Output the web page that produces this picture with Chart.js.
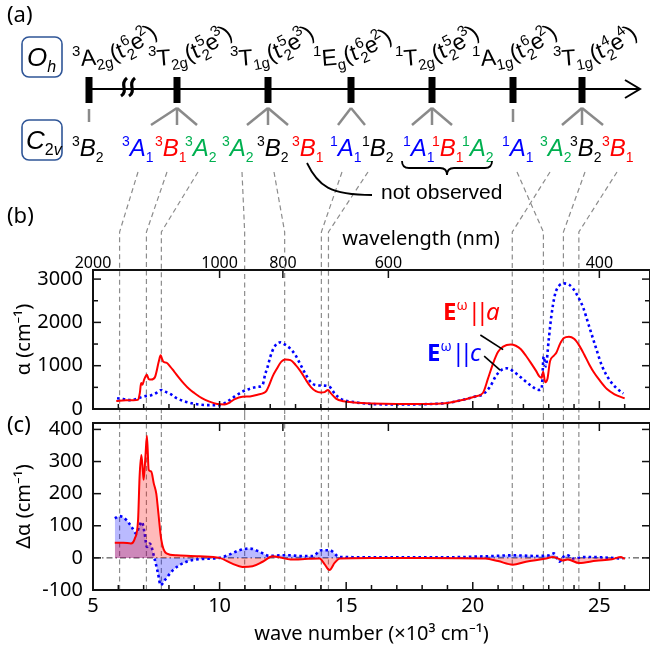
<!DOCTYPE html>
<html><head><meta charset="utf-8">
<script src="https://cdn.jsdelivr.net/npm/chart.js@4.4.0/dist/chart.umd.min.js"></script>
<style>body{margin:0;background:#fff}#wrap{position:relative;width:650px;height:649px;overflow:hidden}canvas{position:absolute;left:0}</style>
</head><body><div id="wrap"><canvas id="cb" width="650" height="415" style="top:0"></canvas><canvas id="cc" width="650" height="234" style="top:415px"></canvas></div>
<script>
// ---------------- data ----------------
// panel (b): absorption, E||a (red) and E||c (blue), wave number in 10^3 cm^-1
const wnA = [5.92,6.3,6.6,6.77,6.85,6.9,6.95,7.02,7.13,7.2,7.3,7.45,7.6,7.67,7.72,7.78,7.9,8.05,8.2,8.4,8.6,8.8,9.0,9.3,9.6,9.9,10.2,10.4,10.6,10.9,11.2,11.5,11.75,11.85,11.95,12.1,12.25,12.45,12.6,12.8,13.0,13.2,13.4,13.6,13.8,14.0,14.15,14.28,14.4,14.6,14.9,15.3,16,17,18,19,19.6,20.1,20.4,20.6,20.8,21.0,21.2,21.5,21.7,21.9,22.1,22.3,22.5,22.62,22.72,22.78,22.86,22.95,23.05,23.2,23.3,23.45,23.6,23.8,24.0,24.2,24.4,24.6,24.8,25.0,25.3,25.6,26.0];
const alphaA = [185,200,200,210,370,600,560,680,790,690,680,740,1100,1240,1170,1090,1070,980,870,720,580,460,370,250,170,115,105,150,230,285,290,330,370,420,540,760,920,1100,1145,1130,1020,870,680,510,410,380,390,440,360,240,180,150,125,115,115,140,210,290,370,700,1050,1320,1440,1490,1460,1380,1230,1060,880,760,720,860,620,700,1100,1230,1300,1510,1640,1670,1620,1470,1260,1030,830,670,460,340,245];
const wnC = [5.95,6.2,6.5,6.8,7.0,7.3,7.5,7.7,7.85,8.05,8.3,8.6,9.0,9.5,10.0,10.3,10.6,10.9,11.2,11.5,11.7,11.8,11.9,12.0,12.15,12.4,12.55,12.8,13.0,13.2,13.4,13.6,13.8,14.1,14.35,14.55,14.8,15.2,16,17,18,19,19.6,20.1,20.4,20.7,20.9,21.1,21.35,21.6,21.8,22.0,22.3,22.6,22.72,22.8,22.88,23.0,23.1,23.25,23.4,23.6,23.8,23.95,24.15,24.35,24.6,24.85,25.1,25.4,25.7,25.95];
const alphaC = [250,230,205,250,290,320,370,440,400,350,250,180,120,90,90,170,290,400,470,510,560,800,980,1200,1420,1540,1500,1390,1240,1020,800,620,550,540,510,350,230,170,115,105,110,140,210,290,340,530,750,890,940,870,780,680,540,440,470,1210,980,1600,2130,2650,2840,2900,2870,2790,2600,2360,1900,1440,1000,670,470,360];
// panel (c): difference spectra
const wnDA = [5.86,6.2,6.5,6.65,6.78,6.84,6.91,6.97,7.0,7.07,7.13,7.2,7.3,7.4,7.5,7.57,7.7,7.9,8.3,9.2,10.0,10.5,10.9,11.3,11.7,12.1,12.4,12.8,13.5,13.95,14.15,14.34,14.55,14.75,16,18,20.5,21.0,21.58,22.1,22.9,23.16,23.4,23.55,23.75,24.2,24.87,25.5,25.86,26.0];
const dAlphaA = [47,47,45,60,118,253,320,270,243,315,380,274,269,232,200,149,55,14,8,5,0,-18,-28,-26,-12,5,1,-5,-3,-2,-20,-38,-15,-2,0,0,-2,-10,-21,-12,-2,3,-3,-8,-5,-16,-9,-4,3,-4];
const wnDC = [5.86,6.05,6.32,6.52,6.71,6.84,6.93,7.04,7.13,7.24,7.43,7.57,7.67,7.83,8.16,8.69,9.21,10.0,10.4,10.79,11.19,11.58,11.97,12.37,12.77,13.16,13.68,14.02,14.34,14.74,16,19,20.53,21.58,22.5,23.03,23.2,23.42,23.6,23.75,23.95,24.48,25.92];
const dAlphaC = [123,130,118,97,76,102,112,76,34,45,-2,-49,-85,-70,-38,-12,-4,0,11,24,29,19,6,8,8,6,6,24,24,3,2,2,5,8,6,8,14,-12,5,8,-2,3,-2];
// level energies marked by dashed lines (10^3 cm^-1)
const levelWN = [6.05,7.11,7.70,10.99,12.57,14.02,14.30,22.79,21.56,23.58,24.19];
// tick values
const nmTicks = [2000,1000,800,600,400];
const alphaTicks = [0,500,1000,1500,2000,2500,3000];
const dAlphaTicks = [-100,0,100,200,300,400];
const wnTicks = [5,6,7,8,9,10,11,12,13,14,15,16,17,18,19,20,21,22,23,24,25,26,27];
// labels in panel (a)
const ohLabels = [['3','A','2g','6','2'],['3','T','2g','5','3'],['3','T','1g','5','3'],['1','E','g','6','2'],['1','T','2g','5','3'],['1','A','1g','6','2'],['3','T','1g','4','4']];
const c2vLabels = [['3','B','2','k'],['3','A','1','b'],['3','B','1','r'],['3','A','2','g'],['3','A','2','g'],['3','B','2','k'],['3','B','1','r'],['1','A','1','b'],['1','B','2','k'],['1','A','1','b'],['1','B','1','r'],['1','A','2','g'],['1','A','1','b'],['3','A','2','g'],['3','B','2','k'],['3','B','1','r']];

// ---------------- layout/style ----------------
const RED='#ff0000', BLUE='#0000ff', GREEN='#00b050', BLK='#000000';
const COL={k:BLK,b:BLUE,r:RED,g:GREEN};
const F='"Noto Sans", "Open Sans", sans-serif';
const FA='"Liberation Sans", Arial, sans-serif';
const ohX=[72,148,230,313,395,472,553];
const c2vX=[72,122,155,185,222,257,292,330,362,403,432,462,502,540,570,602];
const barX=[89,177,268,351,432,513,582];
const splits=[[0],[-26,0,20],[-21,0,20],[-13,14],[-20,0,20],[0],[-20,0,21]];
const vTopX=[138,167,198,242,274,342,368,517,550,585,617];
const V_TOP=172, V_BEND=232;

function rich(ctx,x,y,parts,size,fam,curve,color,sf){
  sf=sf||0.6;
  let px=x,py=y,ang=0;
  ctx.textBaseline='alphabetic'; ctx.textAlign='left';
  for(const p of parts){
    const small=p.s==='sup'||p.s==='sub'||p.s==='stack';
    const fs=small?Math.round(size*sf):size;
    ctx.font=(p.i?'italic ':'')+(p.b?'bold ':'')+fs+'px '+fam;
    let w=ctx.measureText(p.t).width;
    if(p.s==='stack') w=Math.max(w,ctx.measureText(p.u).width);
    ctx.save(); ctx.translate(px,py); ctx.rotate(ang);
    ctx.fillStyle=p.c||color||'#000';
    if(p.s==='sup') ctx.fillText(p.t,0,-size*0.42);
    else if(p.s==='sub') ctx.fillText(p.t,0,size*0.24);
    else if(p.s==='stack'){ctx.fillText(p.t,1,size*0.26);ctx.fillText(p.u,1,-size*0.42);}
    else ctx.fillText(p.t,0,0);
    ctx.restore();
    const adv=w+(p.k||0);
    px+=adv*Math.cos(ang); py+=adv*Math.sin(ang);
    if(curve) ang-=curve*adv;
  }
}
function line(ctx,x1,y1,x2,y2){ctx.beginPath();ctx.moveTo(x1,y1);ctx.lineTo(x2,y2);ctx.stroke();}
function noPad(s){s.paddingTop=0;s.paddingBottom=0;s.paddingLeft=0;s.paddingRight=0;}

function frameTicks(chart,yMajor,yAll){
  const {ctx,chartArea:a,scales}=chart;
  ctx.save();
  ctx.strokeStyle='#111'; ctx.lineWidth=1.5;
  const ys=scales.y, xs=scales.x;
  ys.ticks.forEach(t=>{const py=ys.getPixelForValue(t.value);const L=(yAll||t.value%yMajor===0)?8:5;line(ctx,a.left,py,a.left+L,py);line(ctx,a.right,py,a.right-L,py);});
  wnTicks.forEach(v=>{if(v<=5||v>=27)return;const px=xs.getPixelForValue(v);const L=v%5===0?8:5;line(ctx,px,a.bottom,px,a.bottom-L);});
  nmTicks.forEach(nm=>{const px=xs.getPixelForValue(1e4/nm);line(ctx,px,a.top,px,a.top+8);});
  ctx.lineWidth=2; ctx.strokeRect(a.left,a.top,a.right-a.left,a.bottom-a.top);
  ctx.restore();
}
function yTitle(ctx,x,y,txt){
  ctx.save();ctx.translate(x,y);ctx.rotate(-Math.PI/2);ctx.font='20px '+F;ctx.fillStyle='#000';ctx.textAlign='center';ctx.textBaseline='middle';ctx.fillText(txt,0,0);ctx.restore();
}

const decoB={id:'decoB',
  beforeDatasetsDraw(chart){
    const {ctx,scales:{x}}=chart;
    ctx.save();ctx.strokeStyle='#8c8c8c';ctx.lineWidth=1.2;ctx.setLineDash([5,3.5]);
    levelWN.forEach((w,i)=>{const px=x.getPixelForValue(w);ctx.beginPath();ctx.moveTo(vTopX[i],V_TOP);ctx.lineTo(px,V_BEND);ctx.lineTo(px,415);ctx.stroke();});
    ctx.restore();
  },
  afterDraw(chart){
    const {ctx,chartArea:a,scales:{x,y}}=chart;
    frameTicks(chart,1000,false);
    ctx.save();
    ctx.fillStyle='#000';ctx.font='22px '+F;ctx.textBaseline='alphabetic';ctx.textAlign='left';
    ctx.fillText('(a)',7,22);ctx.fillText('(b)',7,223);
    ctx.font='20px '+F;ctx.textAlign='center';ctx.fillText('wavelength (nm)',421,245);
    yTitle(ctx,24,(a.top+a.bottom)/2,'\u03b1 (cm\u207b\u00b9)');
    // --- panel (a) ---
    ctx.strokeStyle='#2f5597';ctx.lineWidth=1.6;
    ctx.beginPath();ctx.roundRect(22,37,40,40,7);ctx.stroke();
    ctx.beginPath();ctx.roundRect(22,120,40,40,7);ctx.stroke();
    rich(ctx,27,66,[{t:'O',i:true},{t:'h',s:'sub',i:true}],26,FA);
    rich(ctx,26,149,[{t:'C',i:true},{t:'2',s:'sub'},{t:'v',s:'sub',i:true}],26,FA);
    ctx.strokeStyle='#000';ctx.lineWidth=2;
    line(ctx,89,89,639,89);
    ctx.beginPath();ctx.moveTo(625,80);ctx.lineTo(640,89);ctx.lineTo(625,98);ctx.stroke();
    ctx.lineWidth=3.2;
    [124,132].forEach(bx=>{ctx.beginPath();ctx.moveTo(bx-3,96);ctx.bezierCurveTo(bx+5,91,bx-5,84,bx+3,78);ctx.stroke();});
    ctx.fillStyle='#000';
    barX.forEach(bx=>ctx.fillRect(bx-3.5,77,7,26));
    ctx.strokeStyle='#8a8a8a';ctx.lineWidth=2.5;
    barX.forEach((bx,i)=>{const s=splits[i];if(s.length===1){line(ctx,bx,109,bx,122);}else s.forEach(d=>line(ctx,bx,108,bx+d,125));});
    ohLabels.forEach((l,i)=>{
      rich(ctx,ohX[i],66,[{t:l[0],s:'sup',k:1},{t:l[1]},{t:l[2],s:'sub'},{t:'('},{t:'t',k:1},{t:'2',u:l[3],s:'stack',k:1},{t:'e'},{t:l[4],s:'sup'},{t:')'}],23,FA,0.0085,'#000',0.66);
    });
    c2vLabels.forEach((l,i)=>{
      rich(ctx,c2vX[i],156,[{t:l[0],s:'sup'},{t:l[1],i:true},{t:l[2],s:'sub'}],24,FA,0,COL[l[3]]);
    });
    ctx.strokeStyle='#000';ctx.lineWidth=1.8;
    ctx.beginPath();ctx.moveTo(402,161);ctx.quadraticCurveTo(402,168,409,168);ctx.lineTo(440,168);ctx.quadraticCurveTo(447,168,447,175);ctx.quadraticCurveTo(447,168,454,168);ctx.lineTo(485,168);ctx.quadraticCurveTo(492,168,492,161);ctx.stroke();
    ctx.beginPath();ctx.moveTo(307,163);ctx.bezierCurveTo(318,186,330,195,372,195);ctx.stroke();
    ctx.fillStyle='#000';ctx.font='21px '+FA;ctx.textAlign='left';ctx.fillText('not observed',381,199);
    // legend
    rich(ctx,443,320,[{t:'E',b:true},{t:'\u03c9',s:'sup'},{t:'|',k:-5},{t:'|',k:-3},{t:'a',i:true}],24,F,0,RED);
    rich(ctx,427,361,[{t:'E',b:true},{t:'\u03c9',s:'sup'},{t:'|',k:-5},{t:'|',k:-3},{t:'c',i:true}],24,F,0,BLUE);
    ctx.strokeStyle='#000';ctx.lineWidth=1.6;
    line(ctx,x.getPixelForValue(20.3),y.getPixelForValue(1710),x.getPixelForValue(21.2),y.getPixelForValue(1370));
    line(ctx,x.getPixelForValue(20.45),y.getPixelForValue(1220),x.getPixelForValue(21.08),y.getPixelForValue(900));
    ctx.restore();
  }
};

const decoC={id:'decoC',
  beforeDatasetsDraw(chart){
    const {ctx,chartArea:a,scales:{x}}=chart;
    ctx.save();ctx.strokeStyle='#8c8c8c';ctx.lineWidth=1.2;ctx.setLineDash([5,3.5]);
    levelWN.forEach(w=>{const px=x.getPixelForValue(w);line(ctx,px,0,px,a.bottom);});
    ctx.restore();
  },
  afterDraw(chart){
    const {ctx,chartArea:a}=chart;
    frameTicks(chart,100,true);
    ctx.save();ctx.fillStyle='#000';ctx.font='22px '+F;ctx.textAlign='left';ctx.textBaseline='alphabetic';
    ctx.fillText('(c)',7,17);
    yTitle(ctx,24,(a.top+a.bottom)/2,'\u0394\u03b1 (cm\u207b\u00b9)');
    ctx.font='20px '+F;ctx.textAlign='center';
    ctx.fillText('wave number (\u00d710\u00b3 cm\u207b\u00b9)',(a.left+a.right)/2,225);
    ctx.restore();
  }
};

const pts=(xs,ys)=>xs.map((v,i)=>({x:v,y:ys[i]}));
const tickFont={family:'"Noto Sans", sans-serif',size:20};
const setTicks=arr=>function(s){s.ticks=arr.map(v=>({value:v}));};

new Chart(document.getElementById('cb'),{
  type:'line',
  data:{datasets:[
    {label:'E||a',data:pts(wnA,alphaA),borderColor:RED,borderWidth:2,pointRadius:0,cubicInterpolationMode:'monotone',fill:false},
    {label:'E||c',data:pts(wnC,alphaC),borderColor:BLUE,borderWidth:2.6,borderDash:[2.6,3],pointRadius:0,cubicInterpolationMode:'monotone',fill:false}
  ]},
  options:{responsive:false,animation:false,devicePixelRatio:1,
    layout:{padding:{left:0,right:0,top:0,bottom:6}},
    plugins:{legend:{display:false},tooltip:{enabled:false}},
    scales:{
      x:{type:'linear',min:5,max:27,display:false,afterBuildTicks:setTicks(wnTicks)},
      x2:{type:'linear',position:'top',min:5,max:27,
        grid:{display:false,drawTicks:false},border:{display:false},
        afterBuildTicks(s){s.ticks=nmTicks.map(nm=>({value:1e4/nm}));},
        afterFit(s){s.height=270;noPad(s);},
        ticks:{autoSkip:false,maxRotation:0,padding:-3,color:'#000',font:{family:'"Noto Sans", sans-serif',size:16},callback:v=>String(Math.round(1e4/v))}},
      y:{type:'linear',min:0,max:3210,
        grid:{display:false,drawTicks:false},border:{display:false},
        afterBuildTicks:setTicks(alphaTicks),
        afterFit(s){s.width=93;noPad(s);},
        ticks:{autoSkip:false,padding:10,color:'#000',font:tickFont,callback:v=>v%1000===0?String(v):''}}
    }
  },
  plugins:[decoB]
});

new Chart(document.getElementById('cc'),{
  type:'line',
  data:{datasets:[
    {label:'E||a',data:pts(wnDA,dAlphaA),borderColor:RED,borderWidth:2,pointRadius:0,cubicInterpolationMode:'monotone',fill:'origin',backgroundColor:'rgba(255,0,0,0.27)'},
    {label:'E||c',data:pts(wnDC,dAlphaC),borderColor:BLUE,borderWidth:2.6,borderDash:[2.6,3],pointRadius:0,cubicInterpolationMode:'monotone',fill:'origin',backgroundColor:'rgba(0,0,255,0.27)'},
    {label:'zero',data:[{x:5,y:0},{x:27,y:0}],borderColor:'#333',borderWidth:1,borderDash:[6,3,1.5,3],pointRadius:0,fill:false}
  ]},
  options:{responsive:false,animation:false,devicePixelRatio:1,
    layout:{padding:{left:0,right:0,top:8,bottom:0}},
    plugins:{legend:{display:false},tooltip:{enabled:false}},
    scales:{
      x:{type:'linear',min:5,max:27,
        grid:{display:false,drawTicks:false},border:{display:false},
        afterBuildTicks:setTicks(wnTicks),
        afterFit(s){s.height=59;noPad(s);},
        ticks:{autoSkip:false,maxRotation:0,padding:4,color:'#000',font:tickFont,callback:v=>v%5===0?String(v):''}},
      y:{type:'linear',min:-100,max:420,
        grid:{display:false,drawTicks:false},border:{display:false},
        afterBuildTicks:setTicks(dAlphaTicks),
        afterFit(s){s.width=93;noPad(s);},
        ticks:{autoSkip:false,padding:10,color:'#000',font:tickFont}}
    }
  },
  plugins:[decoC]
});
</script></body></html>
